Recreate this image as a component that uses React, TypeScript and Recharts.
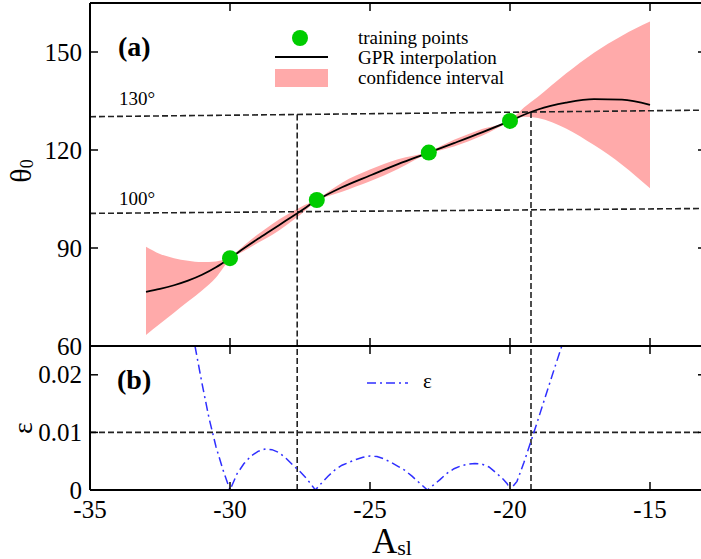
import {
  ComposedChart,
  Line,
  Area,
  Scatter,
  XAxis,
  YAxis,
  ReferenceLine,
  Customized,
} from "recharts";

const FONT = "'Liberation Serif', 'Times New Roman', serif";

// panel (a): training points
const trainX = [-30, -26.9, -22.9, -20];
const trainY = [86.9, 104.7, 119.2, 128.9];

// panel (a): GPR mean and confidence band
const gprX = [
  -33, -32.5, -32, -31.5, -31, -30.5, -30, -29.5, -29, -28.5, -28, -27.5, -26.9,
  -26, -25, -24, -22.9, -22, -21, -20, -19.5, -19, -18, -17, -16, -15,
];
const gprMean = [
  76.6, 77.5, 78.6, 80.0, 81.8, 84.1, 86.9, 89.9, 92.8, 95.6, 98.4, 101.2, 104.6,
  108.6, 112.2, 115.7, 119.2, 122.1, 125.4, 128.9, 130.8, 132.4, 134.5, 135.6,
  135.4, 133.8,
];
const gprHigh = [
  90.4, 88.2, 86.9, 86.1, 85.7, 85.9, 87.3, 90.8, 94.2, 97.3, 100.0, 102.4, 104.9,
  110.0, 114.0, 117.2, 119.5, 123.1, 126.4, 129.2, 133.0, 136.3, 143.4, 149.8,
  155.0, 159.3,
];
const gprLow = [
  63.4, 66.8, 70.2, 73.6, 77.0, 81.0, 86.5, 89.1, 91.6, 94.0, 96.9, 100.1, 104.3,
  107.2, 110.4, 114.2, 118.9, 121.1, 124.4, 128.6, 130.2, 129.8, 126.6, 121.5,
  115.5, 108.3,
];

// panel (b): relative error
const epsX = [
  -31.25, -31, -30.75, -30.5, -30.25, -30, -29.75, -29.5, -29.25, -29, -28.75,
  -28.5, -28.25, -28, -27.75, -27.5, -27.25, -26.95, -26.75, -26.5, -26.25, -26,
  -25.75, -25.5, -25.25, -25, -24.75, -24.5, -24.25, -24, -23.75, -23.5, -23.25,
  -22.95, -22.75, -22.5, -22.25, -22, -21.75, -21.5, -21.25, -21, -20.75, -20.5,
  -20.25, -20.1, -20, -19.75, -19.5, -19.25, -19, -18.75, -18.5, -18.15,
];
const epsVal = [
  0.025, 0.0185, 0.0125, 0.0075, 0.0035, 0, 0.0028, 0.0046, 0.0059, 0.0067,
  0.0071, 0.007, 0.0065, 0.0055, 0.0043, 0.0032, 0.0019, 0, 0.0011, 0.0024,
  0.0035, 0.0043, 0.0048, 0.0053, 0.0057, 0.0059, 0.0058, 0.0054, 0.0048, 0.0041,
  0.0034, 0.0024, 0.0013, 0, 0.0008, 0.0018, 0.0029, 0.0037, 0.0042, 0.0045,
  0.0046, 0.0045, 0.004, 0.003, 0.0019, 0.0011, 0, 0.0015, 0.0048, 0.0085,
  0.0122, 0.016, 0.0198, 0.025,
];

const xTicks = [-35, -30, -25, -20, -15];
const thetaTicks = [60, 90, 120, 150];
const epsTicks = [0, 0.01, 0.02];

const bandData = gprX.map((x, i) => ({ x, range: [gprLow[i], gprHigh[i]] }));
const meanData = gprX.map((x, i) => ({ x, y: gprMean[i] }));
const pointData = trainX.map((x, i) => ({ x, y: trainY[i] }));
const epsData = epsX.map((x, i) => ({ x, y: epsVal[i] }));

const TL = 8;
const txt = { style: { fontFamily: FONT }, fill: "#000" };
const dash = { stroke: "#222", strokeWidth: 1.6, strokeDasharray: "6 3" };
const axisLine = { stroke: "#000", strokeWidth: 2 };

const LeftTick = (p: any) => (
  <g>
    <line x1={p.x} y1={p.y} x2={p.x + TL} y2={p.y} stroke="#000" strokeWidth={1.5} />
    <text x={p.x - 8} y={p.y} textAnchor="end" dominantBaseline="central" fontSize={25} {...txt}>
      {p.payload.value}
    </text>
  </g>
);
const RightTick = (p: any) => (
  <line x1={p.x} y1={p.y} x2={p.x - TL} y2={p.y} stroke="#000" strokeWidth={1.5} />
);
const TopTick = (p: any) => (
  <line x1={p.x} y1={p.y} x2={p.x} y2={p.y + TL} stroke="#000" strokeWidth={1.5} />
);
const BottomTick = (p: any) => (
  <line x1={p.x} y1={p.y} x2={p.x} y2={p.y - TL} stroke="#000" strokeWidth={1.5} />
);
const BottomLabelTick = (p: any) => (
  <g>
    <line x1={p.x} y1={p.y} x2={p.x} y2={p.y - TL} stroke="#000" strokeWidth={1.5} />
    <text x={p.x} y={p.y + 19} textAnchor="middle" dominantBaseline="central" fontSize={25} {...txt}>
      {p.payload.value}
    </text>
  </g>
);

const TopDecor = () => (
  <g>
    <text x={118} y={56} fontSize={28} fontWeight="bold" {...txt}>(a)</text>
    <circle cx={300} cy={38} r={8} fill="#00cc00" />
    <line x1={275} y1={57} x2={328} y2={57} stroke="#000" strokeWidth={1.8} />
    <rect x={275} y={69} width={53} height={18} fill="#ffaaaa" />
    <text x={358} y={43.5} fontSize={19} {...txt}>training points</text>
    <text x={358} y={64} fontSize={19} {...txt}>GPR interpolation</text>
    <text x={358} y={84} fontSize={19} {...txt}>confidence interval</text>
    <text x={119} y={105} fontSize={19} {...txt}>130°</text>
    <text x={119} y={205} fontSize={19} {...txt}>100°</text>
    <text
      transform="rotate(-90)"
      x={-171}
      y={20}
      textAnchor="middle"
      dominantBaseline="central"
      fontSize={30}
      {...txt}
    >
      θ<tspan fontSize={18} dy={7}>0</tspan>
    </text>
  </g>
);

const BottomDecor = () => (
  <g>
    <text x={117} y={53} fontSize={28} fontWeight="bold" {...txt}>(b)</text>
    <line
      x1={367}
      y1={47}
      x2={408}
      y2={47}
      stroke="#2f2fff"
      strokeWidth={1.5}
      strokeDasharray="9 4 2 4"
    />
    <text x={423} y={52} fontSize={21} {...txt}>ε</text>
    <text
      transform="rotate(-90)"
      x={-92}
      y={22}
      textAnchor="middle"
      dominantBaseline="central"
      fontSize={28}
      {...txt}
    >
      ε
    </text>
    <text x={392} y={217} textAnchor="middle" fontSize={35} {...txt}>
      A<tspan fontSize={22} dy={2}>sl</tspan>
    </text>
  </g>
);

export default function App() {
  return (
    <div
      style={{
        position: "absolute",
        left: 0,
        top: 0,
        width: 701,
        height: 559,
        overflow: "hidden",
        background: "#fff",
      }}
    >
      <div style={{ position: "absolute", left: 0, top: 0 }}>
        <ComposedChart width={712} height={360} margin={{ top: 2, right: 5, bottom: 13, left: 0 }}>
          <XAxis
            type="number"
            dataKey="x"
            domain={[-35, -13]}
            ticks={xTicks}
            interval={0}
            height={1}
            tickSize={0}
            tickMargin={0}
            tickLine={false}
            axisLine={axisLine}
            tick={(p: any) => <BottomTick {...p} />}
            allowDataOverflow
          />
          <XAxis
            xAxisId="top"
            orientation="top"
            type="number"
            dataKey="x"
            domain={[-35, -13]}
            ticks={xTicks}
            interval={0}
            height={1}
            tickSize={0}
            tickMargin={0}
            tickLine={false}
            axisLine={axisLine}
            tick={(p: any) => <TopTick {...p} />}
            allowDataOverflow
          />
          <YAxis
            type="number"
            dataKey="y"
            domain={[60, 165]}
            ticks={thetaTicks}
            interval={0}
            width={90}
            tickSize={0}
            tickMargin={0}
            tickLine={false}
            axisLine={axisLine}
            tick={(p: any) => <LeftTick {...p} />}
            allowDataOverflow
          />
          <YAxis
            yAxisId="right"
            orientation="right"
            type="number"
            domain={[60, 165]}
            ticks={thetaTicks}
            interval={0}
            width={1}
            tickSize={0}
            tickMargin={0}
            tickLine={false}
            axisLine={axisLine}
            tick={(p: any) => <RightTick {...p} />}
            allowDataOverflow
          />
          <Area
            data={bandData}
            dataKey="range"
            type="monotone"
            fill="#ffaaaa"
            fillOpacity={1}
            stroke="none"
            isAnimationActive={false}
          />
          <ReferenceLine segment={[{ x: -35, y: 130.2 }, { x: -13, y: 132.2 }]} {...dash} />
          <ReferenceLine segment={[{ x: -35, y: 100.6 }, { x: -13, y: 102.1 }]} {...dash} />
          <ReferenceLine segment={[{ x: -27.6, y: 130.9 }, { x: -27.6, y: 60 }]} {...dash} />
          <ReferenceLine segment={[{ x: -19.25, y: 131.6 }, { x: -19.25, y: 60 }]} {...dash} />
          <Line
            data={meanData}
            dataKey="y"
            type="monotone"
            stroke="#000"
            strokeWidth={1.8}
            dot={false}
            isAnimationActive={false}
          />
          <Scatter
            data={pointData}
            dataKey="y"
            fill="#00cc00"
            shape={(p: any) => <circle cx={p.cx} cy={p.cy} r={8} fill="#00cc00" />}
            isAnimationActive={false}
          />
          <Customized component={TopDecor} />
        </ComposedChart>
      </div>
      <div style={{ position: "absolute", left: 0, top: 336 }}>
        <ComposedChart width={712} height={223} margin={{ top: 9, right: 5, bottom: 68, left: 0 }}>
          <XAxis
            type="number"
            dataKey="x"
            domain={[-35, -13]}
            ticks={xTicks}
            interval={0}
            height={1}
            tickSize={0}
            tickMargin={0}
            tickLine={false}
            axisLine={axisLine}
            tick={(p: any) => <BottomLabelTick {...p} />}
            allowDataOverflow
          />
          <XAxis
            xAxisId="top"
            orientation="top"
            type="number"
            dataKey="x"
            domain={[-35, -13]}
            ticks={xTicks}
            interval={0}
            height={1}
            tickSize={0}
            tickMargin={0}
            tickLine={false}
            axisLine={axisLine}
            tick={(p: any) => <TopTick {...p} />}
            allowDataOverflow
          />
          <YAxis
            type="number"
            dataKey="y"
            domain={[0, 0.025]}
            ticks={epsTicks}
            interval={0}
            width={90}
            tickSize={0}
            tickMargin={0}
            tickLine={false}
            axisLine={axisLine}
            tick={(p: any) => <LeftTick {...p} />}
            allowDataOverflow
          />
          <YAxis
            yAxisId="right"
            orientation="right"
            type="number"
            domain={[0, 0.025]}
            ticks={epsTicks}
            interval={0}
            width={1}
            tickSize={0}
            tickMargin={0}
            tickLine={false}
            axisLine={axisLine}
            tick={(p: any) => <RightTick {...p} />}
            allowDataOverflow
          />
          <ReferenceLine y={0.01} {...dash} />
          <ReferenceLine x={-27.6} {...dash} />
          <ReferenceLine x={-19.25} {...dash} />
          <Line
            data={epsData}
            dataKey="y"
            type="linear"
            stroke="#2f2fff"
            strokeWidth={1.5}
            strokeDasharray="9 4 2 4"
            dot={false}
            isAnimationActive={false}
          />
          <Customized component={BottomDecor} />
        </ComposedChart>
      </div>
    </div>
  );
}
